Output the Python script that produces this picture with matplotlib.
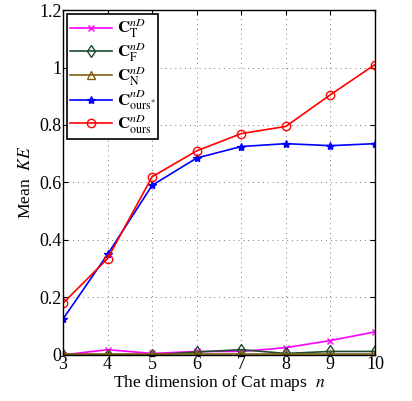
import matplotlib
matplotlib.use('Agg')
import matplotlib.pyplot as plt

plt.rcParams['font.family'] = ['Liberation Serif', 'DejaVu Serif']
plt.rcParams['mathtext.fontset'] = 'stix'

dims = [3, 4, 5, 6, 7, 8, 9, 10]
ke_t = [0.0, 0.018, 0.005, 0.012, 0.012, 0.025, 0.05, 0.08]
ke_f = [0.0, 0.0, 0.0, 0.01, 0.018, 0.005, 0.012, 0.012]
ke_n = [0.002, 0.002, 0.002, 0.002, 0.002, 0.002, 0.002, 0.002]
ke_ours_star = [0.125, 0.35, 0.59, 0.685, 0.725, 0.735, 0.728, 0.735]
ke_ours = [0.18, 0.335, 0.62, 0.71, 0.77, 0.795, 0.905, 1.01]

fig = plt.figure(figsize=(4.12, 4.01), dpi=100)
ax = fig.add_axes([0.153, 0.115, 0.757, 0.86])

ax.plot(dims, ke_t, color='#ff00ff', marker='x', markersize=5, lw=1.2,
        label=r'$\mathbf{C}_{\mathrm{T}}^{nD}$')
ax.plot(dims, ke_f, color='#1e4a30', marker='d', markersize=6, mfc='none', lw=1.2,
        label=r'$\mathbf{C}_{\mathrm{F}}^{nD}$')
ax.plot(dims, ke_n, color='#806010', marker='^', markersize=6, mfc='none', lw=1.2,
        label=r'$\mathbf{C}_{\mathrm{N}}^{nD}$')
ax.plot(dims, ke_ours_star, color='#0000ff', marker='*', markersize=6, lw=1.2,
        label=r'$\mathbf{C}_{\mathrm{ours}^{*}}^{nD}$')
ax.plot(dims, ke_ours, color='#ff0000', marker='o', markersize=6, mfc='none', lw=1.2,
        label=r'$\mathbf{C}_{\mathrm{ours}}^{nD}$')

ax.set_xlim(3, 10)
ax.set_ylim(0, 1.2)
ax.set_xticks(dims)
ax.set_yticks([0, 0.2, 0.4, 0.6, 0.8, 1.0, 1.2])
ax.set_yticklabels(['0', '0.2', '0.4', '0.6', '0.8', '1', '1.2'])
ax.tick_params(direction='in', top=True, right=True, labelsize=13, pad=1)
ax.grid(True, linestyle=(0, (1, 4)), color='#777777', lw=0.7)
for s in ax.spines.values():
    s.set_linewidth(1.0)

ax.set_xlabel(r'The dimension of Cat maps  $n$', fontsize=12.6, labelpad=0)
ax.set_ylabel(r'Mean  $KE$', fontsize=12.6, labelpad=4)

leg = ax.legend(loc='upper left', fontsize=12.2, fancybox=False, framealpha=1,
                edgecolor='black', handlelength=2.5, borderpad=0.15,
                labelspacing=0.0, handletextpad=0.3, borderaxespad=0.25)
leg.get_frame().set_linewidth(1.2)

fig.savefig('out.png', dpi=100)
